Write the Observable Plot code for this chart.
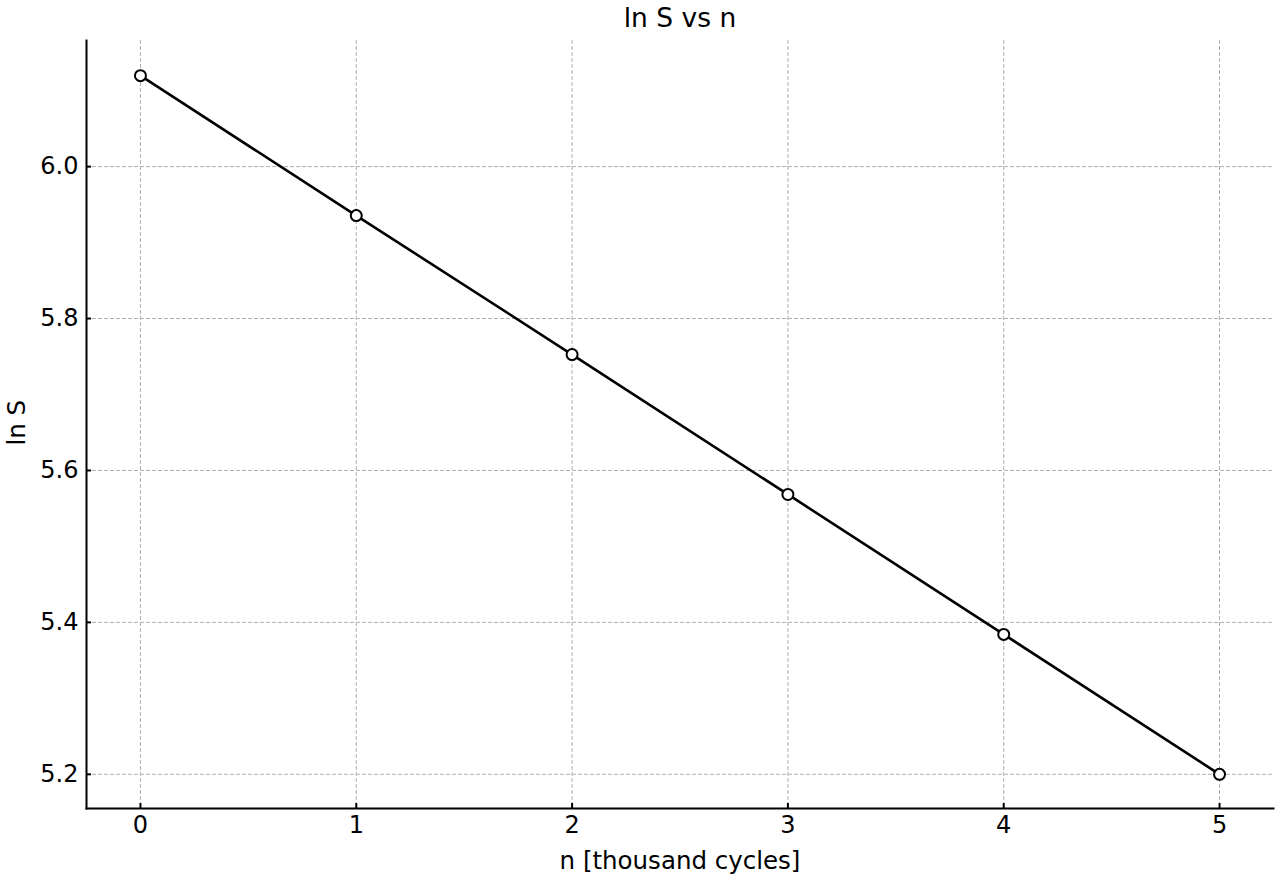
<!DOCTYPE html>
<html>
<head>
<meta charset="utf-8">
<script src="https://cdn.jsdelivr.net/npm/d3@7"></script>
<script src="https://cdn.jsdelivr.net/npm/@observablehq/plot@0.6"></script>
<style>
  html, body { margin: 0; padding: 0; background: #fff; }
  #chart svg { display: block; }
</style>
</head>
<body>
<div id="chart"></div>
<script>
const nValues = [0, 1, 2, 3, 4, 5];
const lnSValues = [6.1197, 5.9355, 5.7526, 5.5684, 5.3842, 5.2000];
const xTicks = [0, 1, 2, 3, 4, 5];
const yTicks = [5.2, 5.4, 5.6, 5.8, 6.0];
const titleText = "ln S vs n";
const xLabel = "n [thousand cycles]";
const yLabel = "ln S";

const data = nValues.map((n, i) => ({n, lnS: lnSValues[i]}));
const font = "'DejaVu Sans', sans-serif";

const W = 1280, H = 880, mL = 86, mR = 7, mT = 40, mB = 72;
const frameW = W - mL - mR, frameH = H - mT - mB;
const tickLen = 5;

const chart = Plot.plot({
  width: W,
  height: H,
  marginLeft: mL,
  marginRight: mR,
  marginTop: mT,
  marginBottom: mB,
  style: {fontFamily: font, fontSize: "24px", color: "#000", background: "#fff"},
  x: {domain: [-0.25, 5.25]},
  y: {domain: [5.155, 6.166]},
  marks: [
    Plot.gridX(xTicks, {stroke: "#b0b0b0", strokeOpacity: 1, strokeWidth: 1, strokeDasharray: "4,2"}),
    Plot.gridY(yTicks, {stroke: "#b0b0b0", strokeOpacity: 1, strokeWidth: 1, strokeDasharray: "4,2"}),
    Plot.axisX(xTicks, {tickSize: 0, tickPadding: 7, fontSize: 24, label: null, tickFormat: d3.format("d")}),
    Plot.axisY(yTicks, {tickSize: 0, tickPadding: 8, fontSize: 24, label: null, tickFormat: d3.format(".1f")}),
    Plot.tickX(xTicks, {x: d => d, insetTop: frameH - tickLen, stroke: "#000", strokeWidth: 2}),
    Plot.tickY(yTicks, {y: d => d, insetRight: frameW - tickLen, stroke: "#000", strokeWidth: 2}),
    Plot.frame({anchor: "left", stroke: "#000", strokeWidth: 2}),
    Plot.frame({anchor: "bottom", stroke: "#000", strokeWidth: 2}),
    Plot.line(data, {x: "n", y: "lnS", stroke: "#000", strokeWidth: 2.6}),
    Plot.dot(data, {x: "n", y: "lnS", r: 5.5, fill: "#fff", stroke: "#000", strokeWidth: 2}),
    Plot.text([titleText], {frameAnchor: "top", lineAnchor: "middle", dy: -22, text: d => d, fontSize: 26.5, fill: "#000"}),
    Plot.text([xLabel], {frameAnchor: "bottom", lineAnchor: "middle", dy: 53, text: d => d, fontSize: 24.5, fill: "#000"}),
    Plot.text([yLabel], {frameAnchor: "left", dx: -69, dy: 21, rotate: -90, text: d => d, fontSize: 24.5, fill: "#000"})
  ]
});
document.getElementById("chart").appendChild(chart);
</script>
</body>
</html>
